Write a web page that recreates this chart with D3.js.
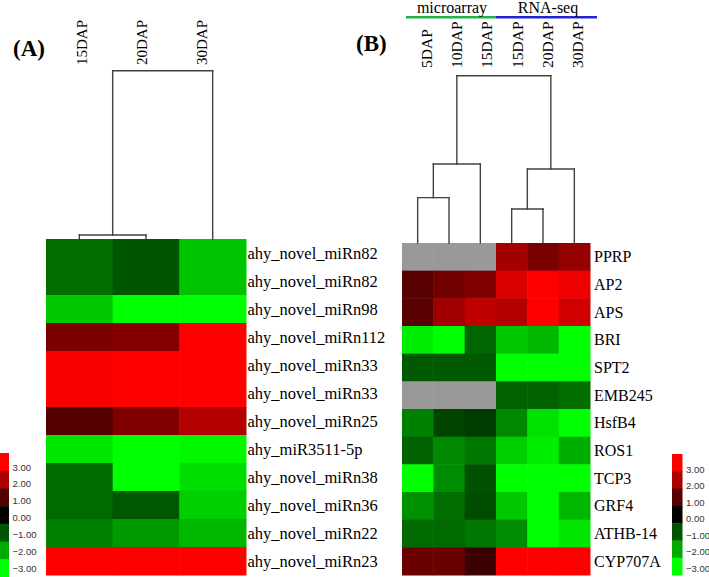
<!DOCTYPE html>
<html>
<head>
<meta charset="utf-8">
<script src="https://cdn.jsdelivr.net/npm/d3@7"></script>
<style>
  html, body { margin: 0; padding: 0; background: #fff; }
  svg { display: block; }
</style>
</head>
<body>
<svg id="chart" width="709" height="577"></svg>
<script>
// ---------- DATA ----------
const colsA = ["15DAP", "20DAP", "30DAP"];
const rowsA = ["ahy_novel_miRn82", "ahy_novel_miRn82", "ahy_novel_miRn98", "ahy_novel_miRn112",
  "ahy_novel_miRn33", "ahy_novel_miRn33", "ahy_novel_miRn25", "ahy_miR3511-5p",
  "ahy_novel_miRn38", "ahy_novel_miRn36", "ahy_novel_miRn22", "ahy_novel_miRn23"];
const valuesA = [
  [-1.3, -1.0, -2.3],
  [-1.3, -1.0, -2.3],
  [-2.35, -3.0, -3.0],
  [1.45, 1.55, 3.0],
  [2.9, 3.0, 3.0],
  [2.9, 3.0, 3.0],
  [1.0, 1.5, 2.1],
  [-2.7, -3.0, -2.9],
  [-1.25, -3.0, -2.6],
  [-1.25, -1.05, -2.45],
  [-1.5, -1.8, -2.15],
  [3.0, 3.0, 3.0]
];
// dendrogram merges (hclust style: negative = leaf index+1, positive = merge number)
const mergesA = [[-1, -2, 0.024], [1, -3, 1.0]];

const colsB = ["5DAP", "10DAP", "15DAP", "15DAP", "20DAP", "30DAP"];
const groupsB = [
  { name: "microarray", from: 0, to: 2, color: "#22b04b" },
  { name: "RNA-seq", from: 3, to: 5, color: "#2323d6" }
];
const rowsB = ["PPRP", "AP2", "APS", "BRI", "SPT2", "EMB245", "HsfB4", "ROS1", "TCP3", "GRF4", "ATHB-14", "CYP707A"];
const valuesB = [
  [null, null, null, 1.9, 1.45, 1.75],
  [1.05, 1.35, 1.5, 2.6, 3.0, 2.8],
  [1.05, 1.9, 2.25, 2.1, 3.0, 2.45],
  [-2.8, -3.0, -1.2, -2.35, -2.15, -3.0],
  [-1.05, -1.05, -1.05, -3.0, -3.0, -3.0],
  [null, null, null, -1.15, -1.15, -1.3],
  [-1.5, -0.8, -0.7, -1.6, -2.65, -3.0],
  [-1.15, -1.6, -1.4, -2.45, -2.8, -2.05],
  [-3.0, -1.65, -0.95, -3.0, -3.0, -3.0],
  [-1.7, -1.3, -0.9, -2.35, -3.0, -2.15],
  [-1.25, -1.25, -1.4, -1.65, -3.0, -2.7],
  [1.25, 1.25, 0.7, 3.0, 3.0, 3.0]
];
const mergesB = [[-1, -2, 0.271], [1, -3, 0.472], [-4, -5, 0.203], [3, -6, 0.442], [2, 4, 1.0]];

const legendValues = [3, 2, 1, 0, -1, -2, -3];

// ---------- STYLE ----------
const serif = "'Liberation Serif', 'Times New Roman', serif";
const sans = "'Liberation Sans', Arial, sans-serif";
const missingColor = "#999999";
const color = d3.scaleLinear().domain([-3, 0, 3]).range(["#00ff00", "#000000", "#ff0000"]).clamp(true);

const svg = d3.select("#chart");

function heatmap(cfg) {
  const g = svg.append("g");
  const x = d3.scaleBand().domain(d3.range(cfg.cols.length)).range([cfg.x0, cfg.x1]);
  const y = d3.scaleBand().domain(d3.range(cfg.rows.length)).range([cfg.y0, cfg.y1]);
  const cells = [];
  cfg.values.forEach((row, i) => row.forEach((v, j) => cells.push({ i, j, v })));
  g.selectAll("rect.cell").data(cells).join("rect")
    .attr("class", "cell")
    .attr("x", d => x(d.j)).attr("y", d => y(d.i))
    .attr("width", x.bandwidth() + 0.5).attr("height", y.bandwidth() + 0.5)
    .attr("fill", d => d.v == null ? missingColor : color(d.v));

  // row labels
  g.selectAll("text.row").data(cfg.rows).join("text")
    .attr("class", "row")
    .attr("x", cfg.x1 + cfg.rowLabelGap)
    .attr("y", (d, i) => y(i) + y.bandwidth() / 2 + 5.5)
    .attr("font-family", serif).attr("font-size", cfg.rowFont)
    .attr("fill", "#000")
    .text(d => d);

  // column labels (rotated)
  const lx = d3.scalePoint().domain(d3.range(cfg.cols.length)).range(cfg.labelRange);
  g.selectAll("text.col").data(cfg.cols).join("text")
    .attr("class", "col")
    .attr("transform", (d, i) => `translate(${lx(i)},${cfg.labelBottom}) rotate(-90)`)
    .attr("font-family", serif).attr("font-size", cfg.colFont)
    .attr("fill", "#000")
    .text(d => d);

  // dendrogram
  const h = d3.scaleLinear().domain([0, 1]).range([cfg.y0, cfg.dendTop]);
  const nodes = [];
  function pos(k) {
    if (k < 0) return { x: x(-k - 1) + x.bandwidth() / 2, y: cfg.y0 };
    return nodes[k - 1];
  }
  const segs = [];
  cfg.merges.forEach(m => {
    const a = pos(m[0]), b = pos(m[1]);
    const yy = h(m[2]);
    segs.push([a.x, a.y, a.x, yy], [a.x, yy, b.x, yy], [b.x, yy, b.x, b.y]);
    nodes.push({ x: (a.x + b.x) / 2, y: yy });
  });
  g.selectAll("line.dend").data(segs).join("line")
    .attr("class", "dend")
    .attr("x1", d => d[0]).attr("y1", d => d[1])
    .attr("x2", d => d[2]).attr("y2", d => d[3])
    .attr("stroke", "#404040").attr("stroke-width", 1.4)
    .attr("stroke-linecap", "square");
  return { x, y, g };
}

function legend(cfg) {
  const g = svg.append("g");
  const y = d3.scaleBand().domain(legendValues).range([cfg.y0, cfg.y1]);
  g.selectAll("rect").data(legendValues).join("rect")
    .attr("x", cfg.x0).attr("width", cfg.w)
    .attr("y", d => y(d)).attr("height", y.bandwidth() + 0.5)
    .attr("fill", d => color(d));
  const ly = d3.scalePoint().domain(legendValues).range(cfg.labelRange);
  g.selectAll("text").data(legendValues).join("text")
    .attr("x", cfg.x0 + cfg.w + 3.5)
    .attr("y", d => ly(d) + 3.5)
    .attr("font-family", sans).attr("font-size", 9.5)
    .attr("fill", "#333")
    .text(d => d3.format(".2f")(d));
}

// ---------- PANEL A ----------
heatmap({
  cols: colsA, rows: rowsA, values: valuesA, merges: mergesA,
  x0: 46, x1: 246, y0: 239, y1: 575, dendTop: 70.7,
  rowLabelGap: 1.5, rowFont: 16.5, colFont: 15,
  labelRange: [87, 207], labelBottom: 65
});
svg.append("text").attr("x", 13).attr("y", 56)
  .attr("font-family", serif).attr("font-weight", "bold").attr("font-size", 23)
  .text("(A)");
legend({ x0: 0, w: 9, y0: 453, y1: 577, labelRange: [467, 568] });

// ---------- PANEL B ----------
const hb = heatmap({
  cols: colsB, rows: rowsB, values: valuesB, merges: mergesB,
  x0: 402, x1: 590, y0: 243, y1: 575, dendTop: 75.7,
  rowLabelGap: 4, rowFont: 16, colFont: 15.5,
  labelRange: [432, 583], labelBottom: 68
});
svg.append("text").attr("x", 356).attr("y", 51)
  .attr("font-family", serif).attr("font-weight", "bold").attr("font-size", 23)
  .text("(B)");

// group bars on top
const gx = hb.x;
const gg = svg.append("g");
gg.selectAll("line").data(groupsB).join("line")
  .attr("x1", (d, i) => i === 0 ? gx(d.from) + 4 : gx(d.from))
  .attr("x2", (d, i) => i === 0 ? gx(d.to) + gx.bandwidth() : gx(d.to) + gx.bandwidth() + 7)
  .attr("y1", 17.3).attr("y2", 17.3)
  .attr("stroke", d => d.color).attr("stroke-width", 2.6);
gg.selectAll("text").data(groupsB).join("text")
  .attr("x", (d, i) => (gx(d.from) + gx(d.to) + gx.bandwidth()) / 2 + (i === 0 ? 3 : 5))
  .attr("y", 13)
  .attr("text-anchor", "middle")
  .attr("font-family", serif).attr("font-size", 16)
  .text(d => d.name);

legend({ x0: 672, w: 10.5, y0: 454, y1: 575, labelRange: [469, 568] });
</script>
</body>
</html>
